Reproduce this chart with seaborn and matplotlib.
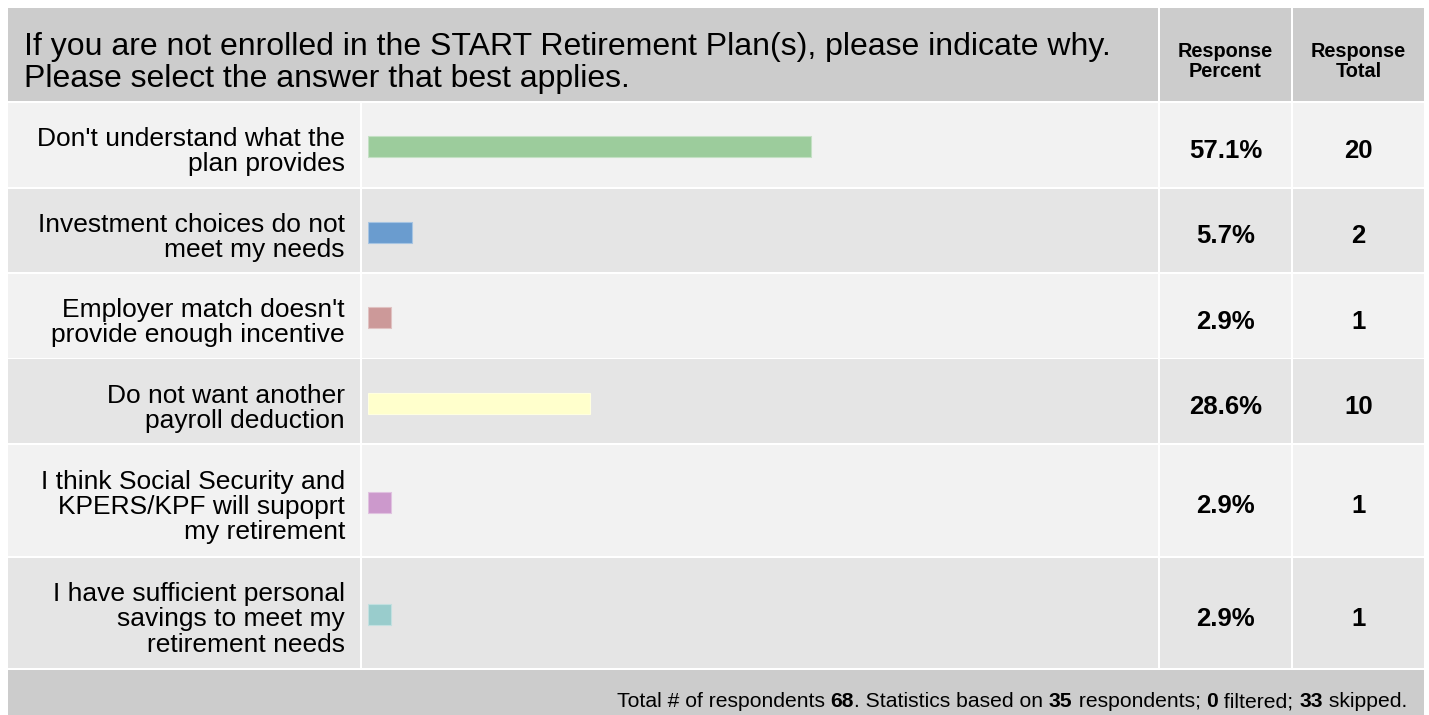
import matplotlib
matplotlib.use("Agg")
import matplotlib.pyplot as plt
from matplotlib.patches import Rectangle
from matplotlib.colors import to_rgb
import pandas as pd
import seaborn as sns

question = ("If you are not enrolled in the START Retirement Plan(s), please indicate why.\n"
            "Please select the answer that best applies.")
answers = [
    "Don't understand what the\nplan provides",
    "Investment choices do not\nmeet my needs",
    "Employer match doesn't\nprovide enough incentive",
    "Do not want another\npayroll deduction",
    "I think Social Security and\nKPERS/KPF will supoprt\nmy retirement",
    "I have sufficient personal\nsavings to meet my\nretirement needs",
]
percents = [57.1, 5.7, 2.9, 28.6, 2.9, 2.9]
totals = [20, 2, 1, 10, 1, 1]
bar_colors = ["#9ccc9c", "#6a9ccf", "#cc9999", "#ffffcc", "#cc99cc", "#99cccc"]
column_titles = ["Response\nPercent", "Response\nTotal"]
footer_parts = [("Total # of respondents ", "normal"), ("68", "bold"),
                (". Statistics based on ", "normal"), ("35", "bold"),
                (" respondents; ", "normal"), ("0", "bold"),
                (" filtered; ", "normal"), ("33", "bold"), (" skipped.", "normal")]

df = pd.DataFrame({"answer": answers, "percent": percents, "total": totals})

sns.set_theme(style="white")
plt.rcParams["font.family"] = ["Liberation Sans", "DejaVu Sans"]

W, H = 1429, 715
fig = plt.figure(figsize=(W / 100, H / 100), dpi=100)
fig.patch.set_facecolor("white")


def box(x0, y0, x1, y1, color):
    fig.add_artist(Rectangle((x0 / W, 1 - y1 / H), (x1 - x0) / W, (y1 - y0) / H,
                             transform=fig.transFigure, facecolor=color,
                             edgecolor="none", zorder=0))


# y is the baseline of the last line of the text
def put(x, y, s, **kw):
    return fig.text(x / W, 1 - y / H, s, color="black", va="baseline", **kw)


def lighter(c, amount=0.4):
    r, g, b = to_rgb(c)
    return (r + (1 - r) * amount, g + (1 - g) * amount, b + (1 - b) * amount)


# column edges (px)
label_col = (8, 360)
bar_col = (362, 1158)
pct_col = (1160, 1291)
tot_col = (1293, 1424)
bar_x0, bar_x100 = 368, 1144

# header
box(8, 8, bar_col[1], 101, "#cccccc")
box(pct_col[0], 8, pct_col[1], 101, "#cccccc")
box(tot_col[0], 8, tot_col[1], 101, "#cccccc")
put(24, 87, question, fontsize=23, ha="left", linespacing=1.1)
for col, title in zip([pct_col, tot_col], column_titles):
    put((col[0] + col[1]) / 2, 77, title, fontsize=14.3, fontweight="bold",
        ha="center", linespacing=1.05)

# rows, height depends on how many lines the answer takes
top = 103
for i, row in df.iterrows():
    n_lines = row["answer"].count("\n") + 1
    h = 29.5 + 27 * n_lines
    bg = "#f2f2f2" if i % 2 == 0 else "#e5e5e5"
    for col in [label_col, bar_col, pct_col, tot_col]:
        box(col[0], top, col[1], top + h, bg)
    put(345, top + 43 + 25.5 * (n_lines - 1), row["answer"], fontsize=19, ha="right",
        linespacing=1.06)
    base = top + h / 2 + 13
    put((pct_col[0] + pct_col[1]) / 2, base, f"{row['percent']:.1f}%", fontsize=18.5,
        fontweight="bold", ha="center")
    put((tot_col[0] + tot_col[1]) / 2, base, f"{row['total']}", fontsize=18.5,
        fontweight="bold", ha="center")

    ax = fig.add_axes([bar_x0 / W, 1 - (top + h + 2) / H, (bar_x100 - bar_x0) / W, h / H])
    sns.barplot(data=df.iloc[[i]], x="percent", y="answer", color=bar_colors[i],
                saturation=1, width=21 / h, edgecolor=lighter(bar_colors[i]),
                linewidth=0.8, ax=ax)
    ax.set_xlim(0, 100)
    ax.set_ylim(0.5, -0.5)
    ax.patch.set_alpha(0)
    ax.axis("off")
    top += h + 2

# footer
box(8, top, 1424, H + 5, "#cccccc")
renderer = fig.canvas.get_renderer()
texts = [put(0, 707, s, fontsize=15.2, fontweight=w, ha="left") for s, w in footer_parts]
widths = [t.get_window_extent(renderer).width for t in texts]
x = 1407 - sum(widths)
for t, wd in zip(texts, widths):
    t.set_x(x / W)
    x += wd

fig.savefig("out.png", dpi=100, facecolor="white")
